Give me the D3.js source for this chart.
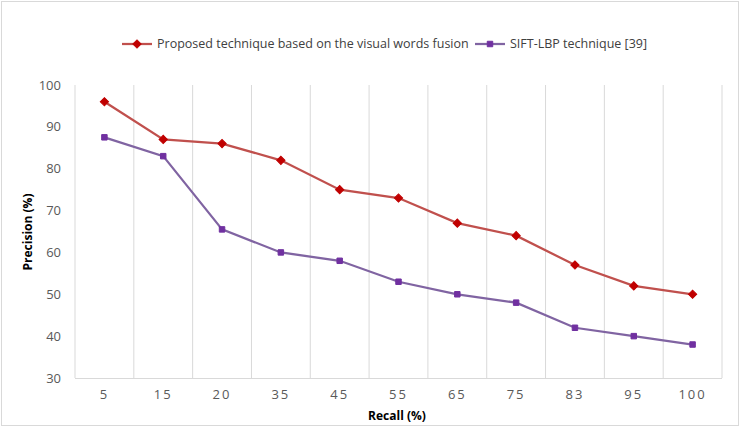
<!DOCTYPE html>
<html><head><meta charset="utf-8">
<script src="https://cdn.jsdelivr.net/npm/d3@7"></script>
<style>body{margin:0;background:#fff;}svg{display:block;}</style>
</head><body>
<script>
const categories = ["5","15","20","35","45","55","65","75","83","95","100"];
const proposed = [96,87,86,82,75,73,67,64,57,52,50];
const siftLbp = [87.5,83,65.5,60,58,53,50,48,42,40,38];
const yTicks = [30,40,50,60,70,80,90,100];
const seriesNames = ["Proposed technique based on the visual words fusion","SIFT-LBP technique [39]"];

const W=740,H=427;
const svg=d3.select("body").append("svg").attr("width",W).attr("height",H);
svg.append("rect").attr("x",1.5).attr("y",1.5).attr("width",W-3).attr("height",H-3).attr("fill","#fff").attr("stroke","#d9d9d9");
const pL=75,pR=722,pT=85,pB=378;
const x=d3.scaleBand().domain(categories).range([pL,pR]).padding(0);
const y=d3.scaleLinear().domain([30,100]).range([pB,pT]);
const font="'Open Sans', 'Liberation Sans', sans-serif";

// vertical gridlines at category boundaries
const bounds=categories.slice(1).map(c=>x(c));
bounds.push(pR);
svg.append("g").selectAll("line").data(bounds).join("line")
 .attr("x1",d=>d).attr("x2",d=>d).attr("y1",pT).attr("y2",pB)
 .attr("stroke","#d9d9d9").attr("stroke-width",1);
svg.append("line").attr("x1",pL).attr("x2",pL).attr("y1",pT).attr("y2",pB).attr("stroke","#d9d9d9");
svg.append("line").attr("x1",pL).attr("x2",pR).attr("y1",pB+0.5).attr("y2",pB+0.5).attr("stroke","#d9d9d9");

// y tick labels
svg.append("g").selectAll("text").data(yTicks).join("text")
 .attr("x",pL-14).attr("y",d=>y(d)).attr("dy","0.35em").attr("text-anchor","end")
 .attr("font-family",font).attr("font-size",13).attr("fill","#595959").text(d=>d);
// x tick labels
svg.append("g").selectAll("text").data(categories).join("text")
 .attr("x",d=>x(d)+x.bandwidth()/2).attr("y",pB+16).attr("dy","0.35em").attr("text-anchor","middle")
 .attr("font-family",font).attr("font-size",13).attr("letter-spacing","2px").attr("fill","#595959").text(d=>d);

// axis titles
svg.append("text").attr("x",397).attr("y",420).attr("text-anchor","middle")
 .attr("font-family",font).attr("font-size",12).attr("font-weight","bold").attr("fill","#000").text("Recall (%)");
svg.append("text").attr("transform","translate(32,232) rotate(-90)").attr("text-anchor","middle")
 .attr("font-family",font).attr("font-size",12).attr("font-weight","bold").attr("fill","#000").text("Precision (%)");

const cx=c=>x(c)+x.bandwidth()/2;
const series=[
 {vals:proposed,line:"#C0504D",mark:"#C00000",rot:45,size:34},
 {vals:siftLbp,line:"#8064A2",mark:"#7030A0",rot:0,size:30}
];
const marker=s=>d3.symbol().type(d3.symbolSquare).size(s.size)();
series.forEach(s=>{
 const data=categories.map((c,i)=>[cx(c),y(s.vals[i])]);
 svg.append("path").attr("d",d3.line()(data)).attr("fill","none").attr("stroke",s.line).attr("stroke-width",2.25);
 svg.append("g").selectAll("path").data(data).join("path")
  .attr("transform",d=>`translate(${d[0]},${d[1]}) rotate(${s.rot})`)
  .attr("d",marker(s))
  .attr("fill",s.mark).attr("stroke",s.mark).attr("stroke-width",1);
});

// legend
const legendY=44;
const legItems=[{x:122,s:series[0],name:seriesNames[0]},{x:475,s:series[1],name:seriesNames[1]}];
legItems.forEach(l=>{
 svg.append("line").attr("x1",l.x).attr("x2",l.x+30).attr("y1",legendY).attr("y2",legendY).attr("stroke",l.s.line).attr("stroke-width",2.25);
 svg.append("path").attr("transform",`translate(${l.x+15},${legendY}) rotate(${l.s.rot})`)
  .attr("d",marker(l.s))
  .attr("fill",l.s.mark).attr("stroke",l.s.mark);
 svg.append("text").attr("x",l.x+35).attr("y",legendY).attr("dy","0.35em")
  .attr("font-family",font).attr("font-size",12.5).attr("fill","#404040").text(l.name);
});
</script>
</body></html>
